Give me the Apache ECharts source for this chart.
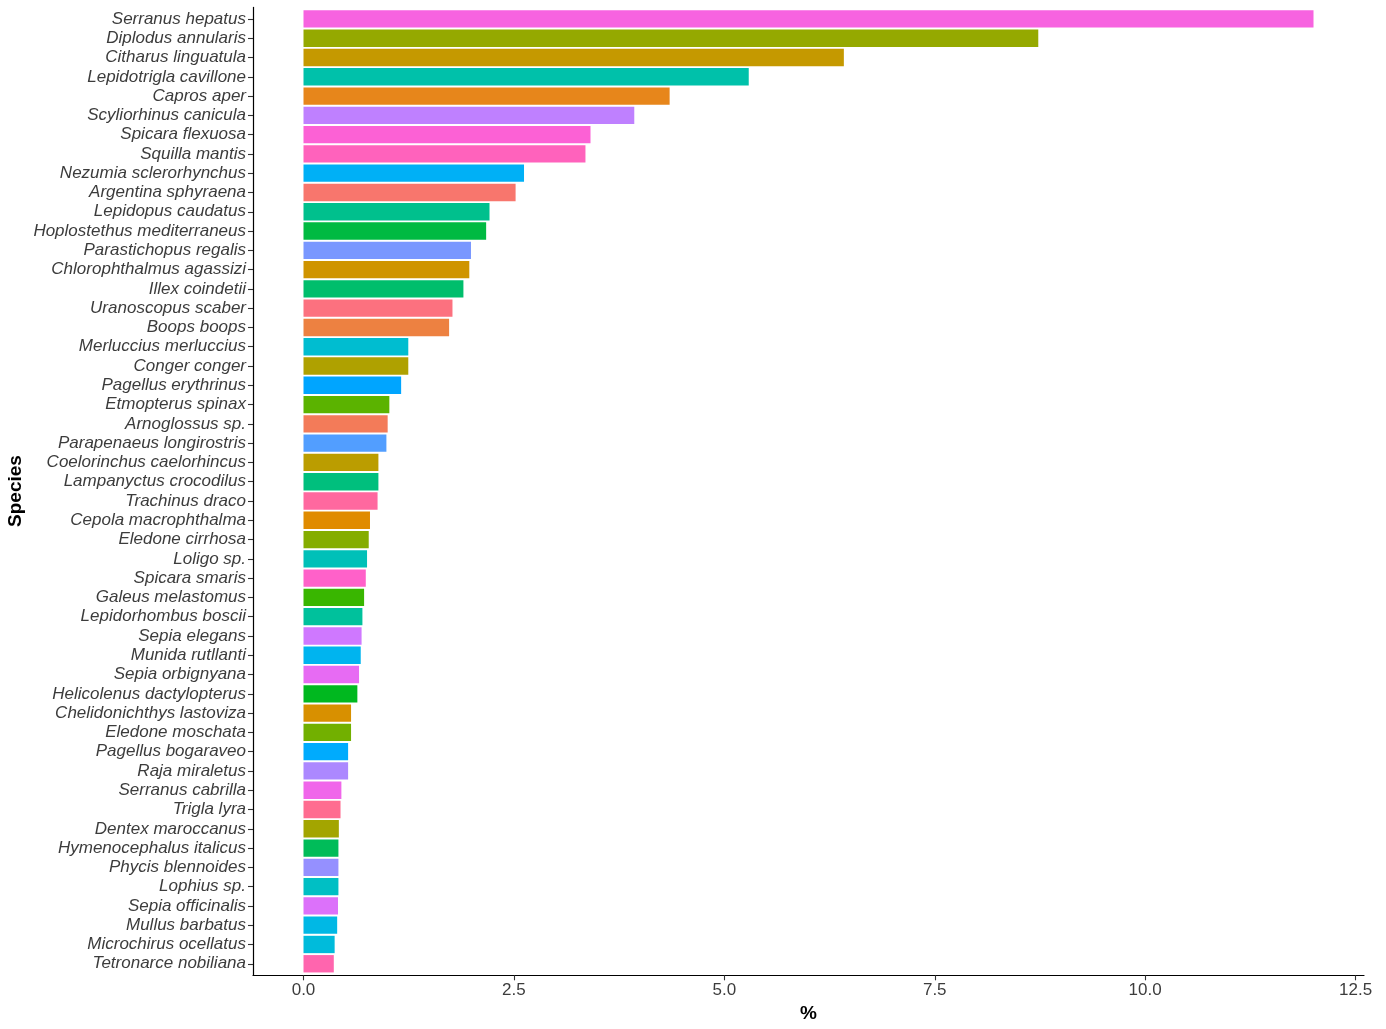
<!DOCTYPE html>
<html>
<head>
<meta charset="utf-8">
<script src="https://cdn.jsdelivr.net/npm/echarts@6/dist/echarts.min.js"></script>
<style>
html,body{margin:0;padding:0;background:#fff;}
#chart{width:1386px;height:1029px;}
</style>
</head>
<body>
<div id="chart"></div>
<script>
// Species, top to bottom
const species = [
  "Serranus hepatus","Diplodus annularis","Citharus linguatula","Lepidotrigla cavillone",
  "Capros aper","Scyliorhinus canicula","Spicara flexuosa","Squilla mantis",
  "Nezumia sclerorhynchus","Argentina sphyraena","Lepidopus caudatus","Hoplostethus mediterraneus",
  "Parastichopus regalis","Chlorophthalmus agassizi","Illex coindetii","Uranoscopus scaber",
  "Boops boops","Merluccius merluccius","Conger conger","Pagellus erythrinus",
  "Etmopterus spinax","Arnoglossus sp.","Parapenaeus longirostris","Coelorinchus caelorhincus",
  "Lampanyctus crocodilus","Trachinus draco","Cepola macrophthalma","Eledone cirrhosa",
  "Loligo sp.","Spicara smaris","Galeus melastomus","Lepidorhombus boscii",
  "Sepia elegans","Munida rutllanti","Sepia orbignyana","Helicolenus dactylopterus",
  "Chelidonichthys lastoviza","Eledone moschata","Pagellus bogaraveo","Raja miraletus",
  "Serranus cabrilla","Trigla lyra","Dentex maroccanus","Hymenocephalus italicus",
  "Phycis blennoides","Lophius sp.","Sepia officinalis","Mullus barbatus",
  "Microchirus ocellatus","Tetronarce nobiliana"
];
// Percentages
const percent = [
  12.0, 8.73, 6.42, 5.29,
  4.35, 3.93, 3.41, 3.35,
  2.62, 2.52, 2.21, 2.17,
  1.99, 1.97, 1.90, 1.77,
  1.73, 1.245, 1.245, 1.16,
  1.02, 1.00, 0.985, 0.89,
  0.89, 0.88, 0.79, 0.775,
  0.755, 0.74, 0.72, 0.70,
  0.69, 0.68, 0.66, 0.64,
  0.565, 0.565, 0.53, 0.53,
  0.45, 0.44, 0.42, 0.415,
  0.415, 0.415, 0.41, 0.40,
  0.37, 0.36
];
const xTicks = [0, 2.5, 5, 7.5, 10, 12.5];

// ggplot2 default hue palette (HCL, l=65, c=100), assigned alphabetically
function hcl(h, c, l) {
  const WY = 100, Wu = 0.1978398, Wv = 0.4683363;
  const hr = h * Math.PI / 180;
  const U = c * Math.cos(hr), V = c * Math.sin(hr);
  const Y = WY * (l > 7.999592 ? Math.pow((l + 16) / 116, 3) : l / 903.3);
  const u = U / (13 * l) + Wu, v = V / (13 * l) + Wv;
  const X = 9 * Y * u / (4 * v);
  const Z = -X / 3 - 5 * Y + 3 * Y / v;
  const g = t => t > 0.00304 ? 1.055 * Math.pow(t, 1 / 2.4) - 0.055 : 12.92 * t;
  const cl = t => Math.max(0, Math.min(255, Math.round(255 * g(t))));
  const R = cl((3.240479 * X - 1.537150 * Y - 0.498535 * Z) / WY);
  const G = cl((-0.969256 * X + 1.875992 * Y + 0.041556 * Z) / WY);
  const B = cl((0.055648 * X - 0.204043 * Y + 1.057311 * Z) / WY);
  return 'rgb(' + R + ',' + G + ',' + B + ')';
}
const sorted = species.slice().sort((a, b) => a < b ? -1 : a > b ? 1 : 0);
const n = sorted.length;
const colorOf = {};
sorted.forEach((s, i) => { colorOf[s] = hcl((15 + i * (360 / n)) % 360, 100, 65); });

const chart = echarts.init(document.getElementById('chart'), null, {renderer: 'canvas'});
const FONT = '"Liberation Sans", Arial, Helvetica, sans-serif';
const TXT = '#3C3C3C';

chart.setOption({
  backgroundColor: '#ffffff',
  animation: false,
  grid: [
    {left: 253, right: 22, top: 9.3, bottom: 55.6, containLabel: false, outerBoundsMode: 'none'},
    {left: 253, right: 22, top: 7.4, bottom: 53.7, containLabel: false, outerBoundsMode: 'none'}
  ],
  xAxis: [
    {gridIndex: 0, type: 'value', min: -0.6, max: 12.6, show: false, splitLine: {show: false}},
    {gridIndex: 1, type: 'value', min: -0.6, max: 12.6,
     name: '%', nameLocation: 'middle', nameGap: 26,
     nameTextStyle: {fontFamily: FONT, fontSize: 19, fontWeight: 'bold', color: '#000'},
     axisLine: {show: true, onZero: false, lineStyle: {color: '#000', width: 1.2}},
     axisTick: {show: true, length: 5, lineStyle: {color: '#333', width: 1.1}, customValues: xTicks},
     axisLabel: {show: true, customValues: xTicks, margin: 7, fontFamily: FONT, fontSize: 17, color: TXT,
       formatter: v => v.toFixed(1)},
     splitLine: {show: false}}
  ],
  yAxis: [
    {gridIndex: 0, type: 'category', data: species, inverse: true,
     axisLine: {show: false, onZero: false},
     axisTick: {show: true, alignWithLabel: true, length: 5, lineStyle: {color: '#333', width: 1.1}},
     axisLabel: {show: true, interval: 0, margin: 7, fontFamily: FONT, fontSize: 17, fontStyle: 'italic', color: TXT,
       padding: [3, 0, 0, 0]},
     splitLine: {show: false}},
    {gridIndex: 1, type: 'value', min: 0, max: 1, show: true,
     axisLine: {show: true, onZero: false, lineStyle: {color: '#000', width: 1.2}},
     axisTick: {show: false}, axisLabel: {show: false}, splitLine: {show: false}}
  ],
  graphic: [{
    type: 'text', rotation: Math.PI / 2, x: 16, y: 491,
    style: {text: 'Species', font: 'bold 19px ' + FONT, fill: '#000', align: 'center', verticalAlign: 'middle'}
  }],
  series: [{
    type: 'bar',
    xAxisIndex: 0, yAxisIndex: 0,
    barWidth: '90%',
    data: percent.map((v, i) => ({value: v, itemStyle: {color: colorOf[species[i]]}})),
    silent: true
  }]
});
</script>
</body>
</html>
